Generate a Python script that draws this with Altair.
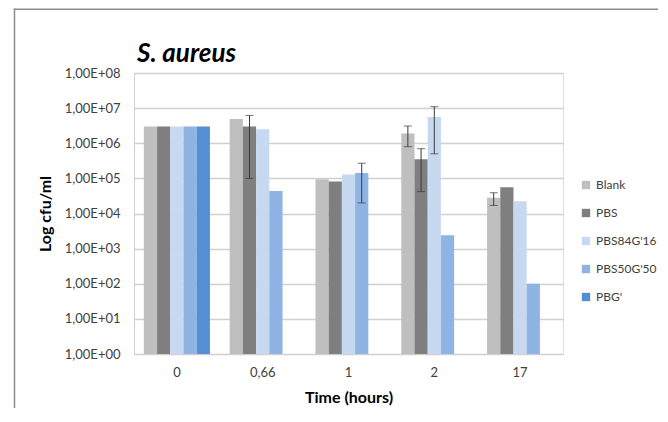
import altair as alt
import pandas as pd

times = ["0", "0,66", "1", "2", "17"]
series = ["Blank", "PBS", "PBS84G'16", "PBS50G'50", "PBG'"]
colors = ["#BFBFBF", "#7F7F7F", "#C6D9F1", "#8EB4E3", "#558ED5"]

blank = [3.0e6, 4.9e6, 9.4e4, 1.9e6, 2.8e4]
pbs = [3.0e6, 3.0e6, 8.2e4, 3.5e5, 5.6e4]
pbs84 = [3.0e6, 2.5e6, 1.28e5, 5.6e6, 2.25e4]
pbs50 = [3.0e6, 4.4e4, 1.43e5, 2.4e3, 1.0e2]
pbg = [3.0e6, None, None, None, None]

err_time = ["0,66", "1", "2", "2", "2", "17"]
err_series = ["PBS", "PBS50G'50", "Blank", "PBS", "PBS84G'16", "Blank"]
err_low = [1.0e5, 2.0e4, 8.0e5, 4.2e4, 5.0e5, 1.7e4]
err_high = [6.2e6, 2.7e5, 3.1e6, 7.0e5, 1.1e7, 3.9e4]

y_ticks = [1, 10, 100, 1e3, 1e4, 1e5, 1e6, 1e7, 1e8]
title_text = "S. aureus"

rows = []
for s, vals in zip(series, [blank, pbs, pbs84, pbs50, pbg]):
    for t, v in zip(times, vals):
        if v is not None:
            rows.append({"time": t, "series": s, "value": v})
bars_df = pd.DataFrame(rows)
err_df = pd.DataFrame({"time": err_time, "series": err_series,
                       "low": err_low, "high": err_high})

FONT = "Lato"

x = alt.X("time:N", sort=times,
          scale=alt.Scale(domain=times, paddingInner=0.23, paddingOuter=0.115),
          axis=alt.Axis(title="Time (hours)", labelAngle=0, ticks=False,
                        domainColor="#D0D0D0", labelPadding=12,
                        titlePadding=10, labelFontSize=13, titleFontSize=16,
                        labelColor="#404040", titleColor="#000000",
                        labelFont=FONT, titleFont=FONT, titleFontWeight="bold"))
xo = alt.XOffset("series:N",
                 scale=alt.Scale(domain=series, paddingInner=0, paddingOuter=0))
yscale = alt.Scale(type="log", domain=[1, 1e8], nice=False)

bars = alt.Chart(bars_df).mark_bar().encode(
    x=x,
    xOffset=xo,
    y=alt.Y("value:Q", scale=yscale,
            axis=alt.Axis(title="Log cfu/ml", values=y_ticks,
                          labelExpr="'1,00E+0' + round(log(datum.value)/LN10)",
                          ticks=False, grid=True, gridColor="#D0D0D0",
                          gridWidth=1.3, domainColor="#D0D0D0",
                          labelPadding=14, titlePadding=11,
                          labelFontSize=13, titleFontSize=16,
                          labelColor="#404040", titleColor="#000000",
                          labelFont=FONT, titleFont=FONT,
                          titleFontWeight="bold")),
    y2=alt.datum(1),
    color=alt.Color("series:N", scale=alt.Scale(domain=series, range=colors),
                    legend=alt.Legend(title=None, orient="none",
                                      legendX=446, legendY=106,
                                      symbolType="square", symbolSize=70,
                                      symbolStrokeWidth=0,
                                      labelFontSize=12, labelFont=FONT,
                                      labelColor="#404040", rowPadding=16,
                                      labelOffset=4, labelLimit=200)),
)

rules = alt.Chart(err_df).mark_rule(color="#3A3A3A", strokeWidth=1).encode(
    x=alt.X("time:N", sort=times), xOffset=xo,
    y=alt.Y("low:Q", scale=yscale), y2="high:Q")
cap_lo = alt.Chart(err_df).mark_tick(color="#3A3A3A", thickness=1, size=8).encode(
    x=alt.X("time:N", sort=times), xOffset=xo,
    y=alt.Y("low:Q", scale=yscale))
cap_hi = alt.Chart(err_df).mark_tick(color="#3A3A3A", thickness=1, size=8).encode(
    x=alt.X("time:N", sort=times), xOffset=xo,
    y=alt.Y("high:Q", scale=yscale))

one = pd.DataFrame({"k": [0]})
frame_left = alt.Chart(one).mark_rect(
    x=-120.25, x2=-118.75, y=-64.5, y2=335, color="#8C8C8C"
).encode(opacity=alt.value(1))
frame_top = alt.Chart(one).mark_rect(
    x=-120.25, x2=524, y=-64.5, y2=-63, color="#8C8C8C"
).encode(opacity=alt.value(1))
title = alt.Chart(one).mark_text(
    text=title_text, font=FONT, fontSize=26, fontStyle="italic",
    fontWeight="bold", color="#000000", align="left",
    baseline="alphabetic").encode(x=alt.value(3), y=alt.value(-11))

chart = alt.layer(bars, rules, cap_lo, cap_hi, frame_left, frame_top,
                  title).properties(
    width=429, height=281,
    autosize=alt.AutoSizeParams(type="none"),
    padding={"left": 126, "top": 65, "right": 95, "bottom": 54},
).configure_view(stroke=None).configure(background="white")

chart.save("out.html", embed_options={"renderer": "svg", "actions": False})
